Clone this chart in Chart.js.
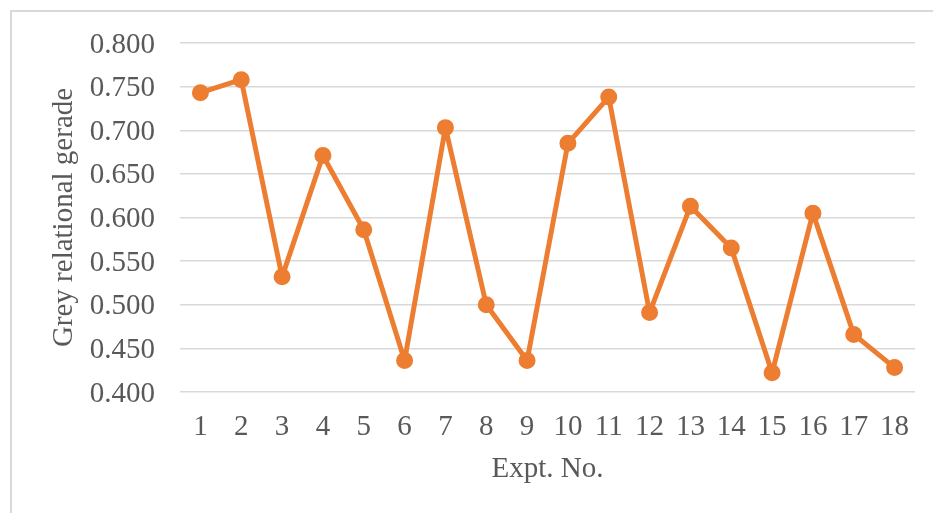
<!DOCTYPE html>
<html>
<head>
<meta charset="utf-8">
<script src="https://cdn.jsdelivr.net/npm/chart.js@4/dist/chart.umd.min.js"></script>
<style>
  html, body { margin: 0; padding: 0; background: #ffffff; overflow: hidden; }
  #wrap { position: relative; width: 933px; height: 513px; }
  #frame { position: absolute; left: 10px; top: 10px; width: 940px; height: 520px; border: 2px solid #d9d9d9; box-sizing: border-box; }
  canvas { position: absolute; left: 0; top: 0; }
</style>
</head>
<body>
<div id="wrap">
  <div id="frame"></div>
  <canvas id="chart" width="933" height="513"></canvas>
</div>
<script>
// Experiment numbers and their grey relational grades
const experiments = ['1','2','3','4','5','6','7','8','9','10','11','12','13','14','15','16','17','18'];
const greyGrade = [0.743, 0.758, 0.532, 0.671, 0.586, 0.436, 0.703, 0.500, 0.436, 0.685, 0.738, 0.491, 0.613, 0.565, 0.422, 0.605, 0.466, 0.428];
const yMin = 0.400;
const yMax = 0.800;
const yStep = 0.050;

const serif = '"Liberation Serif", "Times New Roman", serif';
const textColor = '#595959';
const lineColor = '#ED7D31';

new Chart(document.getElementById('chart'), {
  type: 'line',
  data: {
    labels: experiments,
    datasets: [{
      data: greyGrade,
      borderColor: lineColor,
      backgroundColor: lineColor,
      borderWidth: 5,
      borderJoinStyle: 'round',
      borderCapStyle: 'round',
      pointRadius: 7.5,
      pointBorderWidth: 2,
      pointBorderColor: lineColor,
      pointBackgroundColor: lineColor,
      tension: 0,
      fill: false
    }]
  },
  options: {
    responsive: false,
    animation: false,
    devicePixelRatio: 1,
    layout: { padding: { left: 47, top: 43, right: 18, bottom: 26 } },
    plugins: { legend: { display: false }, tooltip: { enabled: false } },
    scales: {
      x: {
        type: 'category',
        offset: true,
        grid: { display: false, drawTicks: false },
        border: { display: false },
        ticks: { color: textColor, padding: 18, font: { family: serif, size: 29 }, maxRotation: 0 },
        title: { display: true, text: 'Expt. No.', color: textColor, padding: 0, font: { family: serif, size: 29 } },
        afterFit: (scale) => { scale.height = 95; }
      },
      y: {
        min: yMin,
        max: yMax,
        grid: { color: '#d9d9d9', lineWidth: 1.5, drawTicks: false },
        border: { display: false },
        ticks: {
          stepSize: yStep,
          color: textColor,
          padding: 25,
          labelOffset: 2,
          font: { family: serif, size: 29 },
          callback: (v) => Number(v).toFixed(3)
        },
        title: { display: true, text: 'Grey relational gerade', color: textColor, padding: 0, font: { family: serif, size: 29 } },
        afterFit: (scale) => { scale.width = 133; }
      }
    }
  }
});
</script>
</body>
</html>
